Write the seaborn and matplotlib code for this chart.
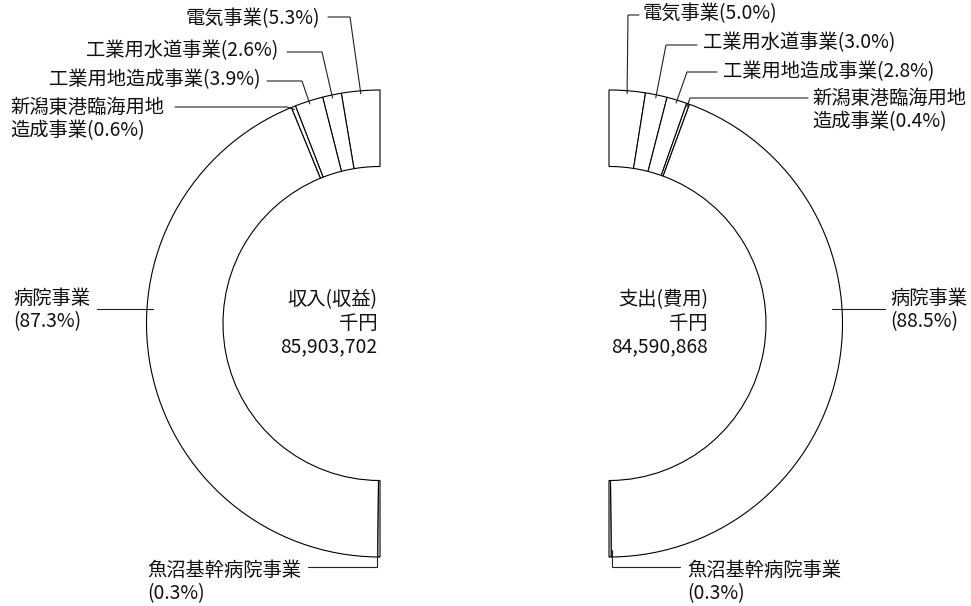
import numpy as np
import matplotlib
matplotlib.use("Agg")
import matplotlib.pyplot as plt
import seaborn as sns

# Business segments (same order on both rings, starting at the top)
segments = ["電気事業", "工業用水道事業", "工業用地造成事業",
            "新潟東港臨海用地造成事業", "病院事業", "魚沼基幹病院事業"]
# Label text with its line breaks
segment_labels = ["電気事業", "工業用水道事業", "工業用地造成事業",
                  "新潟東港臨海用地\n造成事業", "病院事業\n", "魚沼基幹病院事業\n"]
income_share = [5.3, 2.6, 3.9, 0.6, 87.3, 0.3]     # 収入(収益) %
expense_share = [5.0, 3.0, 2.8, 0.4, 88.5, 0.3]    # 支出(費用) %
income_total = 85903702    # 千円
expense_total = 84590868   # 千円

sns.set_theme(style="white")
FONT = ["Noto Sans CJK JP", "DejaVu Sans"]
plt.rcParams["font.family"] = FONT

W, H = 971, 606
fig = plt.figure(figsize=(W / 100, H / 100), dpi=100)
ax = fig.add_axes([0, 0, 1, 1])
ax.set_xlim(0, W)
ax.set_ylim(0, H)
ax.axis("off")

R_OUT, R_IN = 233.5, 157.0
CY = 323.5
FS = 13.9
LW = 0.8


def P(x, y):
    """Canvas position measured from the top-left corner."""
    return x, H - y


def half_ring(values, cx, counterclock):
    vals = list(values) + [sum(values)]  # hidden half
    wedges, _ = ax.pie(vals, radius=R_OUT, center=P(cx, CY), startangle=90,
                       counterclock=counterclock, colors=["white"] * len(vals),
                       wedgeprops=dict(width=R_OUT - R_IN, edgecolor="black",
                                       linewidth=LW),
                       frame=True)
    wedges[-1].set_visible(False)
    return wedges


def anchor(wedge, r):
    a = np.deg2rad((wedge.theta1 + wedge.theta2) / 2)
    cx, cy = wedge.center
    return cx + r * np.cos(a), cy + r * np.sin(a)


def draw_side(values, cx, counterclock, text_pos, leaders, center_title,
              total, center_x):
    wedges = half_ring(values, cx, counterclock)
    for i, (name, v) in enumerate(zip(segment_labels, values)):
        tx, ty, ha = text_pos[i]
        ax.text(*P(tx, ty), f"{name}({v:.1f}%)", ha=ha, va="center",
                multialignment="left", fontsize=FS, linespacing=1.15,
                color="#111111")
        pts = [P(x, y) for x, y in leaders[i]]
        if i < 4:
            pts.append(anchor(wedges[i], R_OUT - 3))
        xs, ys = zip(*pts)
        ax.plot(xs, ys, color="#222222", lw=LW, solid_joinstyle="miter")
    ax.text(*P(center_x, CY), f"{center_title}\n千円\n{total:,}", ha="right",
            va="center", multialignment="right", fontsize=FS,
            linespacing=1.15, color="#111111")


# 収入(収益): left half, drawn counter-clockwise from the top
draw_side(
    income_share, 380, True,
    text_pos=[(320, 19, "right"), (278, 51, "right"), (261, 80, "right"),
              (10, 119, "left"), (13, 310, "left"), (147, 582, "left")],
    leaders=[[(328, 17), (350, 17)], [(287, 52), (322, 52)],
             [(267, 81), (302, 81)], [(175, 107), (287, 107)],
             [(97, 309), (153, 309)],
             [(308, 567), (377, 567), (377, 550)]],
    center_title="収入(収益)", total=income_total, center_x=377)

# 支出(費用): right half, drawn clockwise from the top
draw_side(
    expense_share, 609, False,
    text_pos=[(643, 14, "left"), (703, 43, "left"), (723, 72, "left"),
              (812, 110, "left"), (890, 310, "left"), (687, 582, "left")],
    leaders=[[(639, 15), (628, 15)], [(697, 45), (666, 45)],
             [(717, 72), (687, 72)], [(808, 98), (690, 98)],
             [(885, 309), (832, 309)],
             [(680, 567), (612, 567), (612, 550)]],
    center_title="支出(費用)", total=expense_total, center_x=708)

ax.set_xlim(0, W)
ax.set_ylim(0, H)
fig.savefig("out.png", dpi=100, facecolor="white")
